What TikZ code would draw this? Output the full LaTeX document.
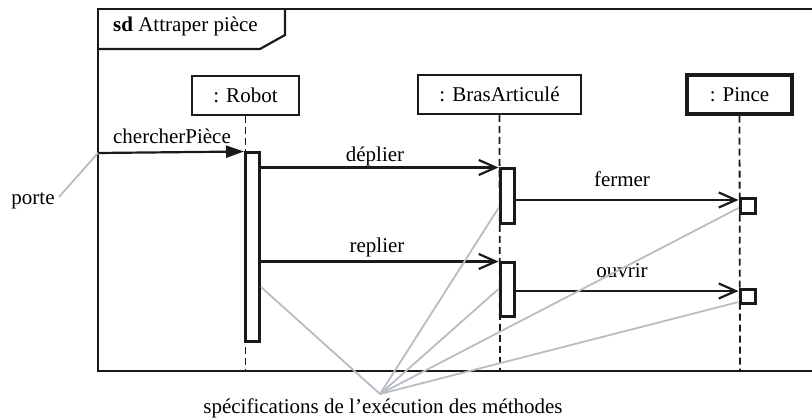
\documentclass[tikz,border=0pt]{standalone}
\usepackage{fontspec}
\setmainfont{Liberation Serif}
\usetikzlibrary{arrows.meta}
\definecolor{ink}{HTML}{1A1A1A}
\definecolor{note}{HTML}{B8BCC4}
\begin{document}
\begin{tikzpicture}[x=1pt,y=-1pt,
  every node/.style={font=\fontsize{21}{25}\selectfont, text=black},
  frame/.style={draw=ink, line width=2.2pt},
  head/.style={draw=ink, line width=2pt, fill=white, minimum height=39pt, inner sep=0pt},
  headbold/.style={head, line width=3.2pt},
  life/.style={draw=ink, line width=1.8pt, dash pattern=on 7pt off 4pt},
  actbar/.style={draw=ink, line width=3pt, fill=white, inner sep=0pt, minimum width=14pt},
  msg/.style={draw=ink, line width=2.2pt, -{Straight Barb[length=17pt,width=15pt,line width=2.2pt]}},
  found/.style={draw=ink, line width=2.2pt, -{Triangle[length=18pt,width=12pt]}},
  notel/.style={draw=note, line width=1.8pt},
  lbl/.style={anchor=base, inner sep=0pt}
]
\useasboundingbox (0,0) rectangle (812,419);
\begin{scope}
\clip (0,0) rectangle (812,419);
% frame
\draw[frame] (98,9) rectangle (840,371);
\end{scope}
\draw[frame] (98,49) -- (260,49) -- (285,35) -- (285,9);
\node[lbl, anchor=base west] (title) at (113,32) {\textbf{sd} Attraper pièce};

% lifeline heads
\node[head, minimum width=107pt] (robot) at (245.5,95.5) {: Robot};
\node[head, minimum width=163pt] (bras) at (499.5,94.5) {: BrasArticulé};
\node[headbold, minimum width=105pt] (pince) at (739.5,94.5) {: Pince};

% lifeline end points
\coordinate (robotend) at (245.5,371);
\coordinate (brasend) at (500,371);
\coordinate (pinceend) at (740,371);
\draw[life] (robot.south) -- (robotend);
\draw[life] (bras.south) -- (brasend);
\draw[life] (pince.south) -- (pinceend);

% activation bars
\node[actbar, minimum height=189pt] (ra) at (252.5,247.5) {};
\node[actbar, minimum height=55pt] (ba1) at (507,196.5) {};
\node[actbar, minimum height=54pt] (ba2) at (507,290) {};
\node[actbar, minimum width=15pt, minimum height=15pt] (pa1) at (747.5,206.5) {};
\node[actbar, minimum width=15pt, minimum height=14pt] (pa2) at (747.5,297) {};

% gate and found message
\coordinate (gate) at (98,153);
\draw[found] (gate) -- (ra.north west);
\node[lbl] (m0) at (172,144) {chercherPièce};

% messages
\draw[msg] (ra.east |- ba1.north west) -- (ba1.north west);
\node[lbl] (m1) at (375,162) {déplier};
\draw[msg] (ba1.east |- 0,200) -- (pa1.west |- 0,200);
\node[lbl] (m2) at (622,187) {fermer};
\draw[msg] (ra.east |- ba2.north west) -- (ba2.north west);
\node[lbl] (m3) at (377,253) {replier};
\draw[msg] (ba2.east |- 0,291) -- (pa2.west |- 0,291);
\node[lbl] (m4) at (622,278) {ouvrir};

% annotations
\node[lbl] (porte) at (33,205) {porte};
\draw[notel] (gate) -- (59,197);
\coordinate (spec) at (380,394);
\node[lbl] (spectext) at (383,414) {spécifications de l’exécution des méthodes};
\draw[notel] (spec) -- (ra.east |- 0,287);
\draw[notel] (spec) -- (ba1.west |- 0,208);
\draw[notel] (spec) -- (ba2.west |- 0,289);
\draw[notel] (spec) -- (pa1.west |- 0,208);
\draw[notel] (spec) -- (pa2.west |- 0,302);
\end{tikzpicture}
\end{document}
